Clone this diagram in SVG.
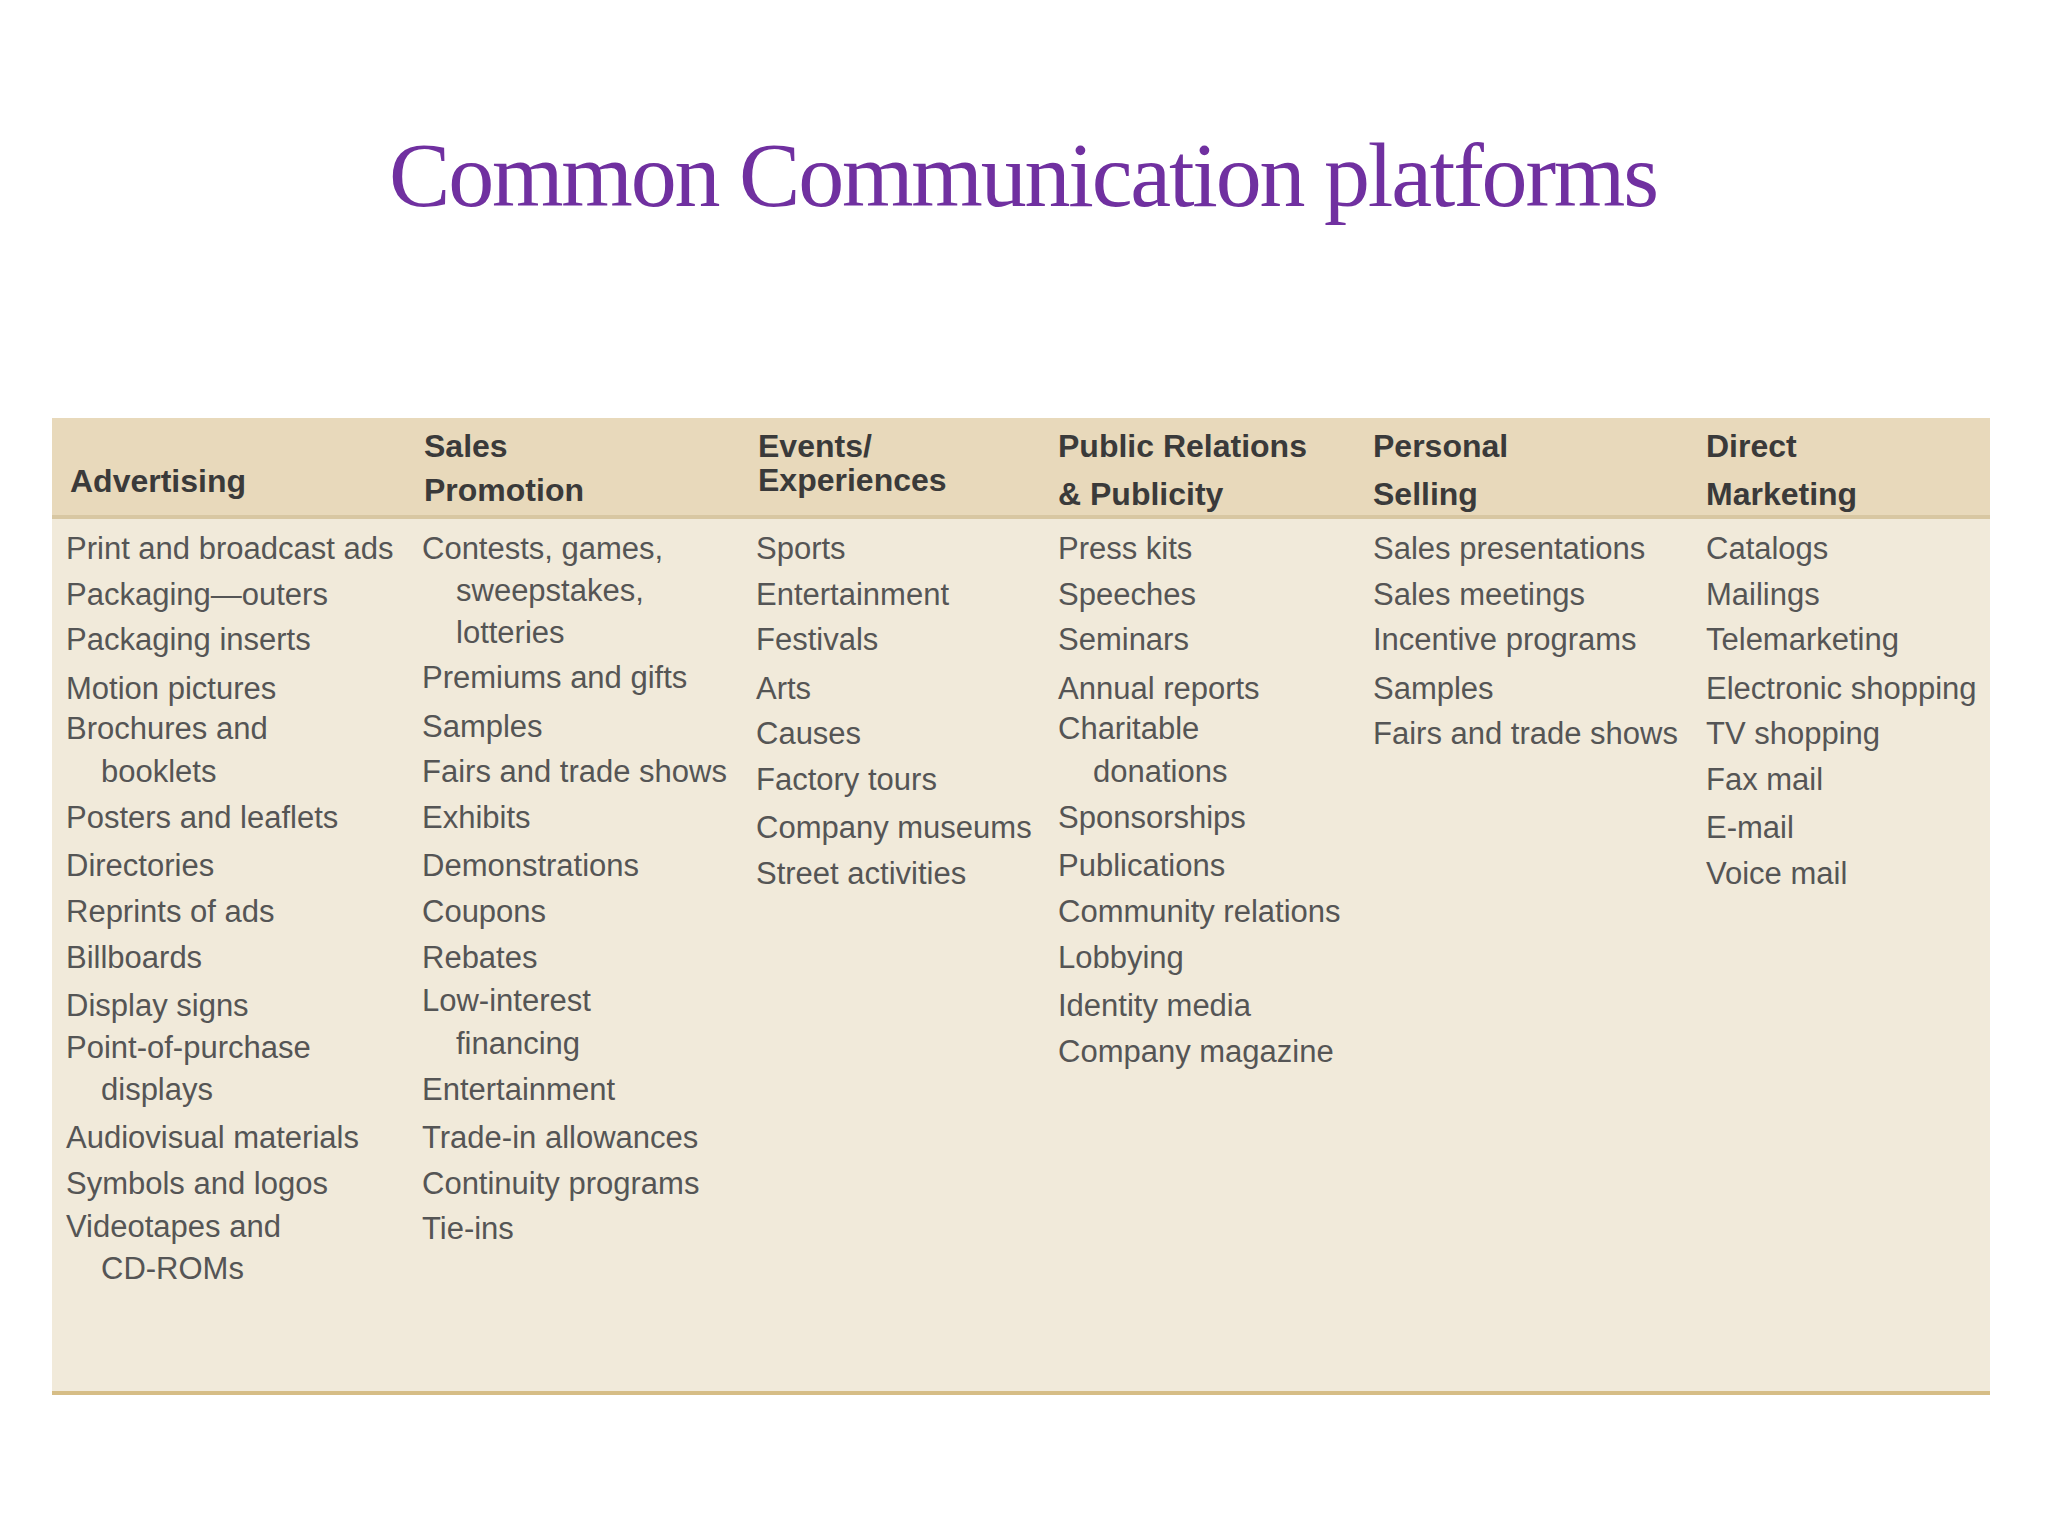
<svg xmlns="http://www.w3.org/2000/svg" width="2048" height="1536" viewBox="0 0 2048 1536">
<style>
.t{font-family:"Liberation Sans",Arial,sans-serif;font-size:31px;fill:#555}
.h{font-family:"Liberation Sans",Arial,sans-serif;font-size:32px;font-weight:bold;fill:#3a3a3a}
</style>
<rect width="2048" height="1536" fill="#fff"/>
<text x="1024" y="206" text-anchor="middle" font-family="Liberation Serif,serif" font-size="92" fill="#7030a0" textLength="1270">Common Communication platforms</text>
<g id="table">
<rect x="52" y="418" width="1938" height="975" fill="#f1eada"/>
<rect x="52" y="418" width="1938" height="99" fill="#e8d9bb"/>
<rect x="52" y="515" width="1938" height="4" fill="#d8c7a2"/>
<rect x="52" y="1391" width="1938" height="4" fill="#d6bd86"/>
</g>
<g id="headers">
<text class="h" x="70" y="492">Advertising</text>
<text class="h" x="424" y="457">Sales</text><text class="h" x="424" y="501">Promotion</text>
<text class="h" x="758" y="457">Events/</text><text class="h" x="758" y="491">Experiences</text>
<text class="h" x="1058" y="457">Public Relations</text><text class="h" x="1058" y="505">&amp; Publicity</text>
<text class="h" x="1373" y="457">Personal</text><text class="h" x="1373" y="505">Selling</text>
<text class="h" x="1706" y="457">Direct</text><text class="h" x="1706" y="505">Marketing</text>
</g>
<g id="col-advertising">
<text class="t" x="66" y="559">Print and broadcast ads</text>
<text class="t" x="66" y="605">Packaging—outers</text>
<text class="t" x="66" y="650">Packaging inserts</text>
<text class="t" x="66" y="699">Motion pictures</text>
<text class="t" x="66" y="739">Brochures and</text>
<text class="t" x="101" y="782">booklets</text>
<text class="t" x="66" y="828">Posters and leaflets</text>
<text class="t" x="66" y="876">Directories</text>
<text class="t" x="66" y="922">Reprints of ads</text>
<text class="t" x="66" y="968">Billboards</text>
<text class="t" x="66" y="1016">Display signs</text>
<text class="t" x="66" y="1058">Point-of-purchase</text>
<text class="t" x="101" y="1100">displays</text>
<text class="t" x="66" y="1148">Audiovisual materials</text>
<text class="t" x="66" y="1194">Symbols and logos</text>
<text class="t" x="66" y="1237">Videotapes and</text>
<text class="t" x="101" y="1279">CD-ROMs</text>
</g>
<g id="col-sales">
<text class="t" x="422" y="559">Contests, games,</text>
<text class="t" x="456" y="601">sweepstakes,</text>
<text class="t" x="456" y="643">lotteries</text>
<text class="t" x="422" y="688">Premiums and gifts</text>
<text class="t" x="422" y="737">Samples</text>
<text class="t" x="422" y="782">Fairs and trade shows</text>
<text class="t" x="422" y="828">Exhibits</text>
<text class="t" x="422" y="876">Demonstrations</text>
<text class="t" x="422" y="922">Coupons</text>
<text class="t" x="422" y="968">Rebates</text>
<text class="t" x="422" y="1011">Low-interest</text>
<text class="t" x="456" y="1054">financing</text>
<text class="t" x="422" y="1100">Entertainment</text>
<text class="t" x="422" y="1148">Trade-in allowances</text>
<text class="t" x="422" y="1194">Continuity programs</text>
<text class="t" x="422" y="1239">Tie-ins</text>
</g>
<g id="col-events">
<text class="t" x="756" y="559">Sports</text>
<text class="t" x="756" y="605">Entertainment</text>
<text class="t" x="756" y="650">Festivals</text>
<text class="t" x="756" y="699">Arts</text>
<text class="t" x="756" y="744">Causes</text>
<text class="t" x="756" y="790">Factory tours</text>
<text class="t" x="756" y="838">Company museums</text>
<text class="t" x="756" y="884">Street activities</text>
</g>
<g id="col-pr">
<text class="t" x="1058" y="559">Press kits</text>
<text class="t" x="1058" y="605">Speeches</text>
<text class="t" x="1058" y="650">Seminars</text>
<text class="t" x="1058" y="699">Annual reports</text>
<text class="t" x="1058" y="739">Charitable</text>
<text class="t" x="1093" y="782">donations</text>
<text class="t" x="1058" y="828">Sponsorships</text>
<text class="t" x="1058" y="876">Publications</text>
<text class="t" x="1058" y="922">Community relations</text>
<text class="t" x="1058" y="968">Lobbying</text>
<text class="t" x="1058" y="1016">Identity media</text>
<text class="t" x="1058" y="1062">Company magazine</text>
</g>
<g id="col-personal">
<text class="t" x="1373" y="559">Sales presentations</text>
<text class="t" x="1373" y="605">Sales meetings</text>
<text class="t" x="1373" y="650">Incentive programs</text>
<text class="t" x="1373" y="699">Samples</text>
<text class="t" x="1373" y="744">Fairs and trade shows</text>
</g>
<g id="col-direct">
<text class="t" x="1706" y="559">Catalogs</text>
<text class="t" x="1706" y="605">Mailings</text>
<text class="t" x="1706" y="650">Telemarketing</text>
<text class="t" x="1706" y="699">Electronic shopping</text>
<text class="t" x="1706" y="744">TV shopping</text>
<text class="t" x="1706" y="790">Fax mail</text>
<text class="t" x="1706" y="838">E-mail</text>
<text class="t" x="1706" y="884">Voice mail</text>
</g>
<g id="connectors"/>
</svg>
